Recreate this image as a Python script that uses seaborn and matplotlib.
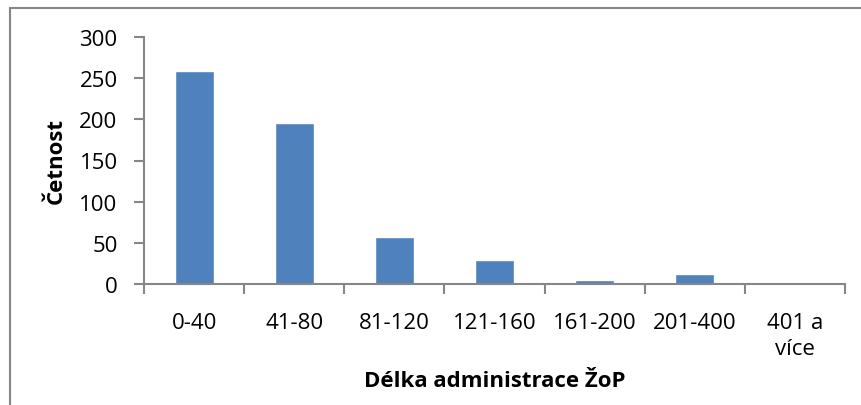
import matplotlib
matplotlib.use("Agg")
import matplotlib.pyplot as plt
import seaborn as sns
import pandas as pd
from matplotlib.lines import Line2D

categories = ["0-40", "41-80", "81-120", "121-160", "161-200", "201-400", "401 a\nvíce"]
counts = [259, 195, 57, 29, 5, 12, 0]
yticks = [0, 50, 100, 150, 200, 250, 300]

sns.set_theme(style="white")
plt.rcParams['font.family'] = ['Open Sans', 'DejaVu Sans']
plt.rcParams['text.color'] = 'black'
plt.rcParams['axes.labelcolor'] = 'black'

df = pd.DataFrame({"cat": categories, "n": counts})

fig = plt.figure(figsize=(8.62, 4.06), dpi=100)
ax = fig.add_axes([144/862, 1-285/406, (845-144)/862, (285-38)/406])

sns.barplot(data=df, x="cat", y="n", color="#4f81bd", width=0.39, saturation=1, ax=ax)

ax.set_ylim(0, 300)
ax.set_xlim(-0.5, len(categories)-0.5)
ax.set_yticks(yticks)
ax.set_xticks(range(len(categories)))
ax.set_xticklabels(categories, linespacing=1.3)
ax.set_xticks([i - 0.5 for i in range(len(categories)+1)], minor=True)

gray = "#868686"
for s in ["top", "right"]:
    ax.spines[s].set_visible(False)
for s in ["left", "bottom"]:
    ax.spines[s].set_color(gray)
    ax.spines[s].set_linewidth(1.5)

fs = 16
ax.tick_params(axis="y", which="major", left=True, length=7, width=1.5, color=gray,
               labelsize=fs, pad=12, labelcolor="black")
ax.tick_params(axis="x", which="major", bottom=False, length=0, labelsize=fs, pad=20,
               labelcolor="black")
ax.tick_params(axis="x", which="minor", bottom=True, length=7, width=1.5, color=gray)

ax.set_xlabel("Délka administrace ŽoP", fontsize=fs, fontweight="bold", labelpad=8)
ax.set_ylabel("Četnost", fontsize=fs, fontweight="bold", labelpad=9)

fig.add_artist(Line2D([10/862, 10/862], [0, 1-8.5/406], transform=fig.transFigure,
                      color=gray, lw=1.5))
fig.add_artist(Line2D([10/862, 1], [1-8.5/406, 1-8.5/406], transform=fig.transFigure,
                      color=gray, lw=1.5))

fig.savefig("out.png", dpi=100)
